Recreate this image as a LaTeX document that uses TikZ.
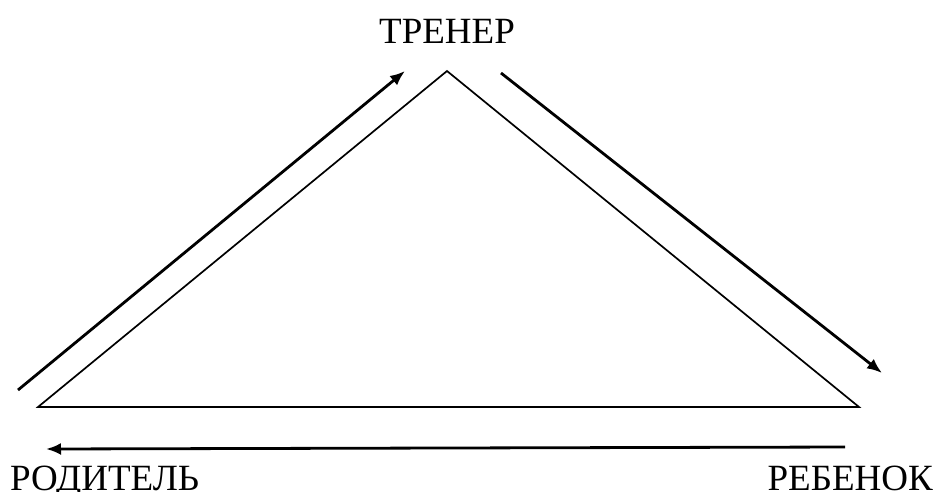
\documentclass[tikz,border=0pt]{standalone}
\usepackage{fontspec}
\setmainfont{Liberation Serif}
\usetikzlibrary{arrows.meta}
\begin{document}
\begin{tikzpicture}[x=1pt,y=-1pt,
  lbl/.style={font=\fontsize{37}{40}\selectfont, inner sep=0pt, anchor=base},
  tri/.style={line width=1.7pt},
  flow/.style={line width=2.8pt, -{Latex[length=15pt,width=12pt]}}]
\useasboundingbox (0,0) rectangle (933,491);
\node[lbl] (trener) at (447,43) {ТРЕНЕР};
\node[lbl, anchor=base west] (roditel) at (10,490) {РОДИТЕЛЬ};
\node[lbl, anchor=base east] (rebenok) at (933,490) {РЕБЕНОК};
\coordinate (A) at (447,71);
\coordinate (L) at (38,407);
\coordinate (R) at (859,407);
\draw[tri, line join=miter] (L) -- (A) -- (R) -- cycle;
\coordinate (a1s) at (18,390);
\coordinate (a1e) at (405,71);
\coordinate (a2s) at (501,73);
\coordinate (a2e) at (882,373);
\coordinate (a3s) at (845,447);
\coordinate (a3e) at (46,449);
\draw[flow] (a1s) -- (a1e);
\draw[flow] (a2s) -- (a2e);
\draw[flow] (a3s) -- (a3e);
\end{tikzpicture}
\end{document}
